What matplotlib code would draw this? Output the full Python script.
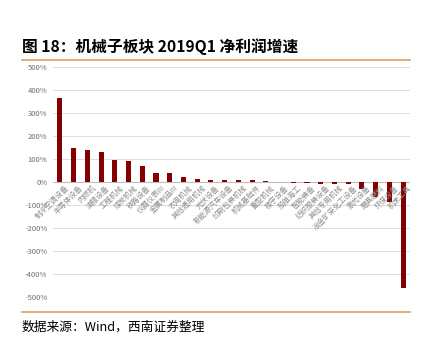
import matplotlib
matplotlib.use("Agg")
import matplotlib.pyplot as plt
from matplotlib.lines import Line2D
from matplotlib.ticker import FuncFormatter

plt.rcParams['font.family'] = ['Noto Sans CJK SC', 'DejaVu Sans']

categories = ['制冷空调设备', '半导体设备', '内燃机', '油服设备', '工程机械', '煤炭机械',
              '铁路设备', '仪器仪表III', '金属制品III', '农用机械', '其他通用机械', '光伏设备',
              '新能源汽车设备', '印刷包装机械', '机械基础件', '重型机械', '楼宇设备', '船舶海工',
              '智能装备', '纺织服装设备', '其他专用机械', '冶金矿采化工设备', '激光设备',
              '磨具磨料', '环保设备', '机床工具']
values = [364, 146, 138, 130, 94, 90, 71, 40, 38, 23, 13, 9,
          8, 8, 7, 4, 1, -3, -5, -9, -9, -9, -30, -65, -87, -461]
yticks = [500, 400, 300, 200, 100, 0, -100, -200, -300, -400, -500]

title = '图 18：机械子板块 2019Q1 净利润增速'
source = '数据来源：Wind，西南证券整理'

fig = plt.figure(figsize=(4.3, 3.45), dpi=100)
ax = fig.add_axes([53/430, 1-297/345, 357/430, 230/345])

x = list(range(len(categories)))
ax.bar(x, values, width=0.37, color='#850000', zorder=3)
ax.set_xlim(-0.5, len(categories)-0.5)
ax.set_ylim(-500, 500)
ax.set_yticks(yticks)
ax.yaxis.set_major_formatter(FuncFormatter(lambda v, p: f'{int(v)}%'))
ax.tick_params(axis='y', length=0, labelsize=5.5, labelcolor='#6E6E6E', pad=4)
ax.set_xticks([])
for s in ax.spines.values():
    s.set_visible(False)
ax.grid(axis='y', color='#DDDDDD', linewidth=0.7, zorder=0)
ax.axhline(0, color='#BFBFBF', linewidth=0.8, zorder=2)

for i, lab in enumerate(categories):
    ax.text(i + 0.35, -8, lab, rotation=45, ha='right', va='top',
            rotation_mode='anchor', fontsize=5.3, color='#8C8C8C', zorder=4)

fig.text(22/430, 1-47/345, title, fontsize=11.3, fontweight='bold', va='center', ha='left')
fig.add_artist(Line2D([22/430, 410/430], [1-60/345, 1-60/345], color='#D9A05B', linewidth=1.2))
fig.add_artist(Line2D([22/430, 410/430], [1-312/345, 1-312/345], color='#D9A05B', linewidth=1.2))
fig.text(22/430, 1-327/345, source, fontsize=9.2, style='italic', va='center', ha='left')

fig.savefig('out.png', dpi=100)
